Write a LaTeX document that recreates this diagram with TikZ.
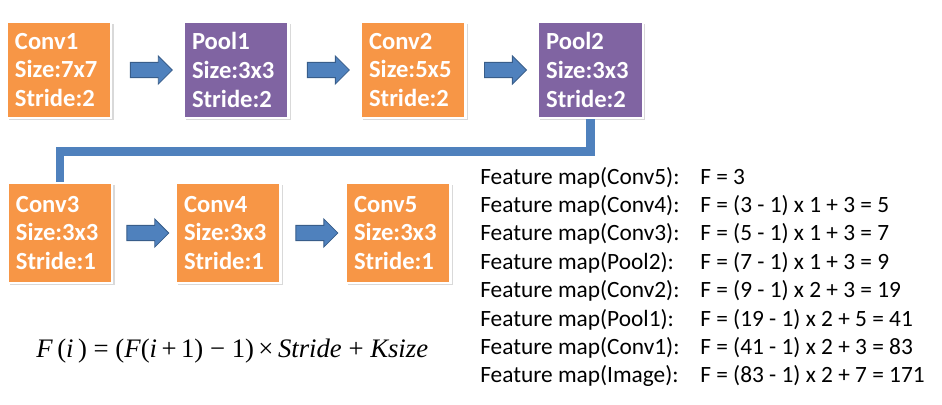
\documentclass[tikz,border=0pt]{standalone}
\usepackage{fontspec}
\setmainfont{Carlito}
\newfontfamily\timesfont{Liberation Serif}
\usepackage{tikz}
\usetikzlibrary{positioning,calc,shapes.arrows,shadows}

\definecolor{convorange}{HTML}{F79646}
\definecolor{poolpurple}{HTML}{8064A2}
\definecolor{linkblue}{HTML}{4F81BD}
\definecolor{linkedge}{HTML}{385D8A}

\tikzset{
  layer/.style={draw=white, line width=1.5pt, minimum width=2.62cm, minimum height=2.4cm,
    text width=2.2cm, align=left, text=white, inner sep=0pt,
    font=\fontsize{17.5}{20.6}\selectfont\bfseries,
    drop shadow={opacity=0.3, shadow xshift=1.5pt, shadow yshift=-1.5pt}},
  conv/.style={layer, fill=convorange},
  pool/.style={layer, fill=poolpurple},
  blockarrow/.style={single arrow, fill=linkblue, draw=linkedge, line width=0.6pt,
    minimum height=1.05cm, inner sep=0.18cm, single arrow head extend=0.16cm},
  fmlabel/.style={anchor=base west, inner sep=0pt, font=\fontsize{16.6}{18}\selectfont}
}

\begin{document}
\begin{tikzpicture}[x=0.025cm, y=-0.025cm, node distance=4.425cm, on grid]
  \useasboundingbox (0,0) rectangle (942,404);

  % first row
  \node[conv] (conv1) at (59,70) {Conv1\\Size:7x7\\Stride:2};
  \node[pool] (pool1) [right=of conv1] {Pool1\\Size:3x3\\Stride:2};
  \node[conv] (conv2) [right=of pool1] {Conv2\\Size:5x5\\Stride:2};
  \node[pool] (pool2) [right=of conv2] {Pool2\\Size:3x3\\Stride:2};

  % second row
  \node[conv, minimum height=2.5cm] (conv3) at (60,233) {Conv3\\Size:3x3\\Stride:1};
  \node[conv, minimum height=2.5cm] (conv4) [right=4.2cm of conv3] {Conv4\\Size:3x3\\Stride:1};
  \node[conv, minimum height=2.5cm] (conv5) [right=4.25cm of conv4] {Conv5\\Size:3x3\\Stride:1};

  \node[blockarrow] (a1) at ($(conv1)!0.5!(pool1)$) {};
  \node[blockarrow] (a2) at ($(pool1)!0.5!(conv2)$) {};
  \node[blockarrow] (a3) at ($(conv2)!0.5!(pool2)$) {};
  \node[blockarrow] (a4) at ($(conv3)!0.5!(conv4)$) {};
  \node[blockarrow] (a5) at ($(conv4)!0.5!(conv5)$) {};

  \coordinate (turn) at ($(pool2.south)+(0,32)$);
  \draw[linkblue, line width=6.3pt] (pool2.south) -- (turn) -| (conv3.north);

  % receptive field
  \foreach \name/\expr [count=\i from 0] in {
      Conv5/{F = 3},
      Conv4/{F = (3 - 1) x 1 + 3 = 5},
      Conv3/{F = (5 - 1) x 1 + 3 = 7},
      Pool2/{F = (7 - 1) x 1 + 3 = 9},
      Conv2/{F = (9 - 1) x 2 + 3 = 19},
      Pool1/{F = (19 - 1) x 2 + 5 = 41},
      Conv1/{F = (41 - 1) x 2 + 3 = 83},
      Image/{F = (83 - 1) x 2 + 7 = 171}} {
    \node[fmlabel] (fm\i) at (480,184+28.4*\i) {Feature map(\name):};
    \node[fmlabel] (fx\i) at (700,184+28.4*\i) {\expr};
  }

  \node[anchor=base west, inner sep=0pt, font=\timesfont\fontsize{19}{20}\selectfont] (rule) at (36,357)
    {\textit{F}\,(\textit{i}\,) = (\textit{F}(\textit{i}\,+\,1) − 1)\,×\,\textit{Stride} + \textit{Ksize}};
\end{tikzpicture}
\end{document}
